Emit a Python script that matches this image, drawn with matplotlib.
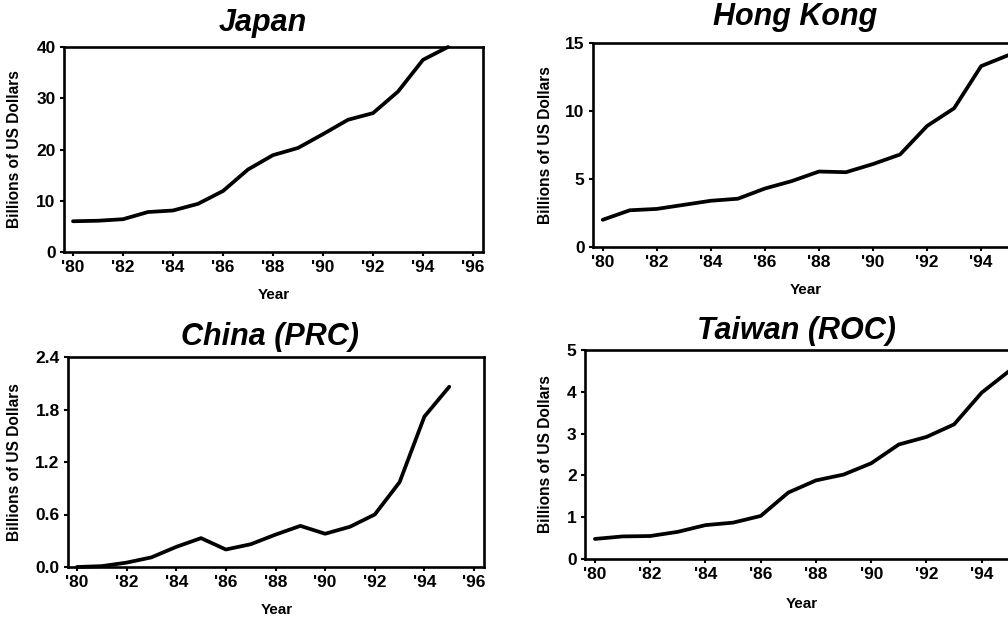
import matplotlib
matplotlib.use("Agg")
import matplotlib.pyplot as plt

plt.rcParams['font.family'] = ['Liberation Sans', 'DejaVu Sans']
plt.rcParams['font.weight'] = 'bold'

years = list(range(1980, 1996))
year_ticks = list(range(1980, 1997, 2))
year_tick_labels = ["'80", "'82", "'84", "'86", "'88", "'90", "'92", "'94", "'96"]

japan = [6.0, 6.1, 6.4, 7.8, 8.1, 9.4, 11.9, 16.1, 18.9, 20.3, 23.0, 25.8, 27.1, 31.3, 37.5, 40.0]
hong_kong = [2.0, 2.7, 2.8, 3.1, 3.4, 3.55, 4.3, 4.85, 5.55, 5.5, 6.1, 6.8, 8.9, 10.2, 13.3, 14.1]
china = [0.0, 0.01, 0.05, 0.11, 0.23, 0.33, 0.20, 0.26, 0.37, 0.47, 0.38, 0.46, 0.60, 0.97, 1.72, 2.06]
taiwan = [0.48, 0.54, 0.55, 0.65, 0.81, 0.87, 1.03, 1.59, 1.88, 2.02, 2.29, 2.74, 2.92, 3.22, 3.98, 4.50]

titles = ["Japan", "Hong Kong", "China (PRC)", "Taiwan (ROC)"]
series = [japan, hong_kong, china, taiwan]
yticks = [[0, 10, 20, 30, 40], [0, 5, 10, 15],
          [0.0, 0.6, 1.2, 1.8, 2.4], [0, 1, 2, 3, 4, 5]]
ytick_labels = [["0", "10", "20", "30", "40"], ["0", "5", "10", "15"],
                ["0.0", "0.6", "1.2", "1.8", "2.4"], ["0", "1", "2", "3", "4", "5"]]

W, H = 1008, 620
fig = plt.figure(figsize=(W / 100, H / 100), dpi=100)

# pixel boxes: left, right, top, bottom
boxes = [(64, 483, 47, 252), (593, 1046, 43, 247),
         (68, 484, 357, 567), (585, 1048, 350, 559)]
title_x = [0.475, 0.447, 0.486, 0.457]
title_pad = [11.5, 13, 8.6, 8]
ylab_x = [-0.10, -0.088, -0.11, -0.069]
xlab = [(0.5, -36 / 205), (0.469, -36 / 204), (0.502, -36 / 210), (0.468, -38 / 209)]

for i in range(4):
    l, r, t, b = boxes[i]
    ax = fig.add_axes([l / W, 1 - b / H, (r - l) / W, (b - t) / H])
    ax.plot(years, series[i], color='black', lw=2.7, solid_joinstyle='round',
            solid_capstyle='round', clip_on=False)
    ax.set_xlim(1979.64, 1996.4)
    ax.set_ylim(yticks[i][0], yticks[i][-1])
    ax.set_xticks(year_ticks)
    labels = list(year_tick_labels)
    if r > W:
        # the last label falls outside the figure, as in the reference
        labels[-1] = ""
    ax.set_xticklabels(labels)
    ax.set_yticks(yticks[i])
    ax.set_yticklabels(ytick_labels[i])
    for s in ax.spines.values():
        s.set_linewidth(1.9)
    ax.tick_params(direction='out', length=3, width=1.5, labelsize=12.5, pad=3)
    for lab in ax.get_xticklabels() + ax.get_yticklabels():
        lab.set_fontweight('bold')
    ax.set_title(titles[i], fontsize=22, fontweight='bold', fontstyle='italic',
                 x=title_x[i], pad=title_pad[i])
    ax.set_ylabel("Billions of US Dollars", fontsize=11.2, fontweight='bold')
    ax.yaxis.set_label_coords(ylab_x[i], 0.5)
    ax.set_xlabel("Year", fontsize=11, fontweight='bold')
    ax.xaxis.set_label_coords(*xlab[i])

fig.savefig("out.png", dpi=100)
